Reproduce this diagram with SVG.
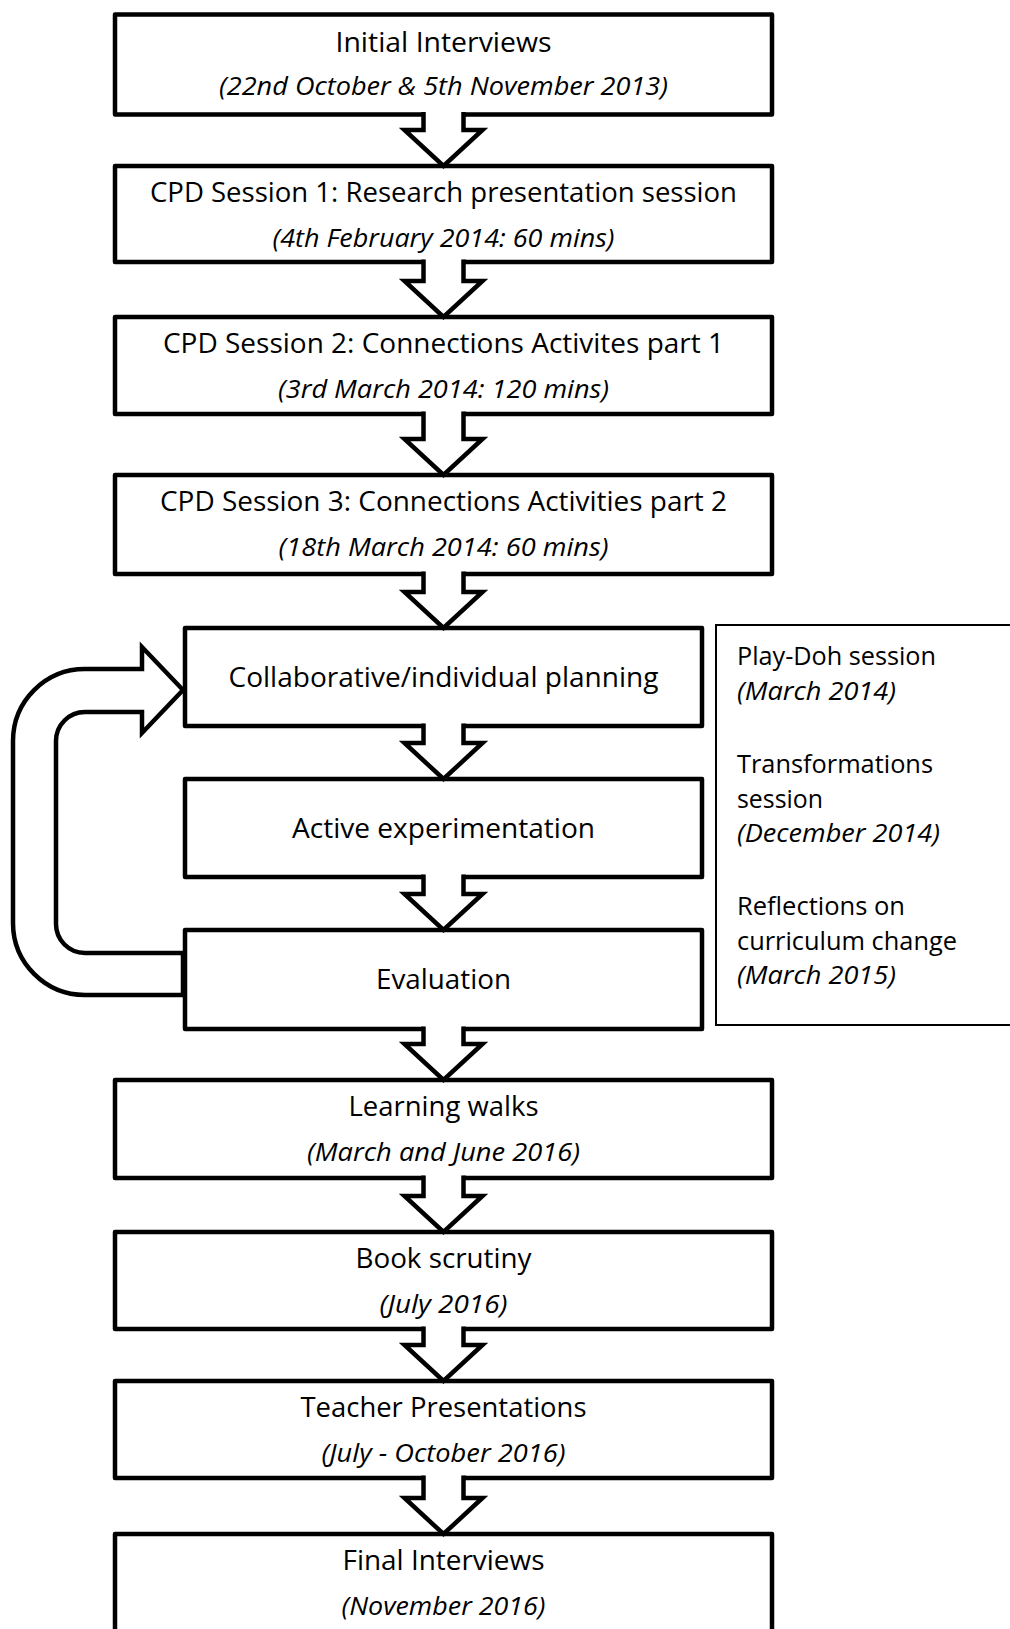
<svg xmlns="http://www.w3.org/2000/svg" width="1010" height="1629" viewBox="0 0 1010 1629">
  <style>
    .box { fill: #ffffff; stroke: #000000; stroke-width: 4.5; stroke-linejoin: round; }
    .panel { fill: #ffffff; stroke: #000000; stroke-width: 2; }
    .flow { fill: #ffffff; stroke: #000000; stroke-width: 4.5; stroke-linejoin: miter; }
    .gap { fill: #ffffff; stroke: none; }
    .t { font-family: "Open Sans", "Liberation Sans", sans-serif; font-size: 27px; fill: #000000; text-anchor: middle; }
    .d { font-family: "Open Sans", "Liberation Sans", sans-serif; font-size: 25px; font-style: italic; fill: #000000; text-anchor: middle; }
    .p { font-family: "Open Sans", "Liberation Sans", sans-serif; font-size: 25px; fill: #000000; }
    .pi { font-style: italic; }
  </style>
  <rect width="1010" height="1629" fill="#ffffff"/>

  <g id="node-initial-interviews">
    <rect class="box" x="115" y="14.5" width="657" height="100"/>
    <text class="t" x="443.5" y="52" textLength="216" lengthAdjust="spacingAndGlyphs">Initial Interviews</text>
    <text class="d" x="443.5" y="95" textLength="449" lengthAdjust="spacingAndGlyphs">(22nd October &amp; 5th November 2013)</text>
  </g>

  <g id="node-cpd-1">
    <rect class="box" x="115" y="166" width="657" height="96"/>
    <text class="t" x="443.5" y="202" textLength="587" lengthAdjust="spacingAndGlyphs">CPD Session 1: Research presentation session</text>
    <text class="d" x="443.5" y="247" textLength="342" lengthAdjust="spacingAndGlyphs">(4th February 2014: 60 mins)</text>
  </g>

  <g id="node-cpd-2">
    <rect class="box" x="115" y="317" width="657" height="97"/>
    <text class="t" x="443.5" y="353" textLength="561" lengthAdjust="spacingAndGlyphs">CPD Session 2: Connections Activites part 1</text>
    <text class="d" x="443.5" y="398" textLength="331" lengthAdjust="spacingAndGlyphs">(3rd March 2014: 120 mins)</text>
  </g>

  <g id="node-cpd-3">
    <rect class="box" x="115" y="475" width="657" height="99"/>
    <text class="t" x="443.5" y="511" textLength="567" lengthAdjust="spacingAndGlyphs">CPD Session 3: Connections Activities part 2</text>
    <text class="d" x="443.5" y="556" textLength="330" lengthAdjust="spacingAndGlyphs">(18th March 2014: 60 mins)</text>
  </g>

  <g id="node-planning">
    <rect class="box" x="185" y="628" width="517" height="98"/>
    <text class="t" x="443.5" y="687" textLength="430" lengthAdjust="spacingAndGlyphs">Collaborative/individual planning</text>
  </g>

  <g id="node-experimentation">
    <rect class="box" x="185" y="779" width="517" height="98"/>
    <text class="t" x="443.5" y="838" textLength="303" lengthAdjust="spacingAndGlyphs">Active experimentation</text>
  </g>

  <g id="node-evaluation">
    <rect class="box" x="185" y="930" width="517" height="99"/>
    <text class="t" x="443.5" y="989" textLength="135" lengthAdjust="spacingAndGlyphs">Evaluation</text>
  </g>

  <g id="node-sessions-panel">
    <rect class="panel" x="716" y="625" width="300" height="400"/>
    <text class="p" x="737" y="665" textLength="199" lengthAdjust="spacingAndGlyphs">Play-Doh session</text>
    <text class="p pi" x="737" y="699.5" textLength="159" lengthAdjust="spacingAndGlyphs">(March 2014)</text>
    <text class="p" x="737" y="773" textLength="196" lengthAdjust="spacingAndGlyphs">Transformations</text>
    <text class="p" x="737" y="807.5" textLength="86" lengthAdjust="spacingAndGlyphs">session</text>
    <text class="p pi" x="737" y="842" textLength="203" lengthAdjust="spacingAndGlyphs">(December 2014)</text>
    <text class="p" x="737" y="915" textLength="168" lengthAdjust="spacingAndGlyphs">Reflections on</text>
    <text class="p" x="737" y="950" textLength="220" lengthAdjust="spacingAndGlyphs">curriculum change</text>
    <text class="p pi" x="737" y="984" textLength="159" lengthAdjust="spacingAndGlyphs">(March 2015)</text>
  </g>

  <g id="node-learning-walks">
    <rect class="box" x="115" y="1080" width="657" height="98"/>
    <text class="t" x="443.5" y="1116" textLength="190" lengthAdjust="spacingAndGlyphs">Learning walks</text>
    <text class="d" x="443.5" y="1161" textLength="273" lengthAdjust="spacingAndGlyphs">(March and June 2016)</text>
  </g>

  <g id="node-book-scrutiny">
    <rect class="box" x="115" y="1232" width="657" height="97"/>
    <text class="t" x="443.5" y="1268" textLength="176" lengthAdjust="spacingAndGlyphs">Book scrutiny</text>
    <text class="d" x="443.5" y="1313" textLength="128" lengthAdjust="spacingAndGlyphs">(July 2016)</text>
  </g>

  <g id="node-teacher-presentations">
    <rect class="box" x="115" y="1381" width="657" height="97"/>
    <text class="t" x="443.5" y="1417" textLength="286" lengthAdjust="spacingAndGlyphs">Teacher Presentations</text>
    <text class="d" x="443.5" y="1462" textLength="244" lengthAdjust="spacingAndGlyphs">(July - October 2016)</text>
  </g>

  <g id="node-final-interviews">
    <rect class="box" x="115" y="1534" width="657" height="110"/>
    <text class="t" x="443.5" y="1570" textLength="202" lengthAdjust="spacingAndGlyphs">Final Interviews</text>
    <text class="d" x="443.5" y="1615" textLength="204" lengthAdjust="spacingAndGlyphs">(November 2016)</text>
  </g>

  <g id="connectors">
    <!-- openings where each arrow stem leaves the box above -->
    <rect class="gap" x="425" y="110" width="37" height="10"/>
    <rect class="gap" x="425" y="257.5" width="37" height="10"/>
    <rect class="gap" x="425" y="409.5" width="37" height="10"/>
    <rect class="gap" x="425" y="569.5" width="37" height="10"/>
    <rect class="gap" x="425" y="721.5" width="37" height="10"/>
    <rect class="gap" x="425" y="872.5" width="37" height="10"/>
    <rect class="gap" x="425" y="1024.5" width="37" height="10"/>
    <rect class="gap" x="425" y="1173.5" width="37" height="10"/>
    <rect class="gap" x="425" y="1324.5" width="37" height="10"/>
    <rect class="gap" x="425" y="1473.5" width="37" height="10"/>
    <!-- block arrows between consecutive stages -->
    <path class="flow" d="M423.5,112 V130 H404.5 L443.5,166 L482.5,130 H463.5 V112"/>
    <path class="flow" d="M423.5,259.5 V281 H404.5 L443.5,317 L482.5,281 H463.5 V259.5"/>
    <path class="flow" d="M423.5,411.5 V439 H404.5 L443.5,475 L482.5,439 H463.5 V411.5"/>
    <path class="flow" d="M423.5,571.5 V592 H404.5 L443.5,628 L482.5,592 H463.5 V571.5"/>
    <path class="flow" d="M423.5,723.5 V743 H404.5 L443.5,779 L482.5,743 H463.5 V723.5"/>
    <path class="flow" d="M423.5,874.5 V894 H404.5 L443.5,930 L482.5,894 H463.5 V874.5"/>
    <path class="flow" d="M423.5,1026.5 V1044 H404.5 L443.5,1080 L482.5,1044 H463.5 V1026.5"/>
    <path class="flow" d="M423.5,1175.5 V1196 H404.5 L443.5,1232 L482.5,1196 H463.5 V1175.5"/>
    <path class="flow" d="M423.5,1326.5 V1345 H404.5 L443.5,1381 L482.5,1345 H463.5 V1326.5"/>
    <path class="flow" d="M423.5,1475.5 V1498 H404.5 L443.5,1534 L482.5,1498 H463.5 V1475.5"/>
    <!-- feedback loop from evaluation back to planning -->
    <path class="flow" d="M183,690 L142,647 V669 H85 A72,72 0 0 0 13,741 V923 A72,72 0 0 0 85,995 H183 V953 H85 A29,29 0 0 1 56,924 V741 A29,29 0 0 1 85,712 H142 V733 Z"/>
  </g>
</svg>
